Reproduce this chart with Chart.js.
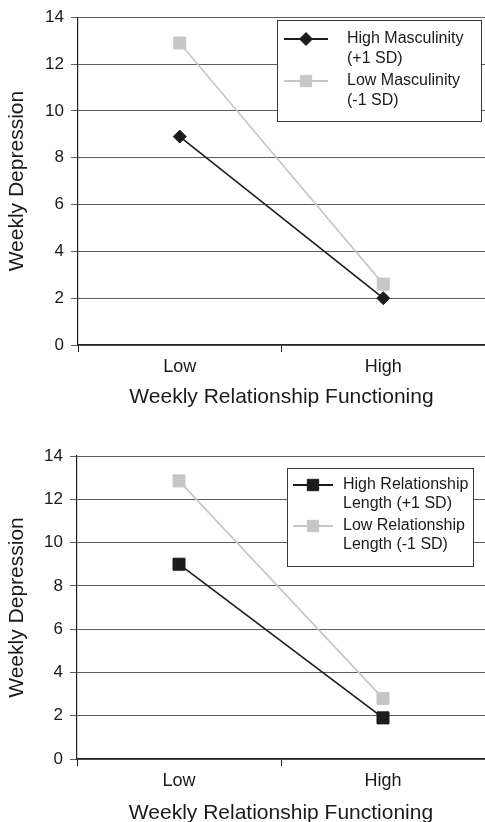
<!DOCTYPE html>
<html>
<head>
<meta charset="utf-8">
<script src="https://cdn.jsdelivr.net/npm/chart.js@4/dist/chart.umd.min.js"></script>
<style>
  html, body { margin: 0; padding: 0; background: #fff; overflow: hidden; }
  #wrap { position: relative; width: 485px; height: 822px; overflow: hidden; }
  #c1 { position: absolute; left: 0; top: 0; }
  #c2 { position: absolute; left: 0; top: 410px; }
</style>
</head>
<body>
<div id="wrap">
  <canvas id="c1" width="485" height="410"></canvas>
  <canvas id="c2" width="485" height="416"></canvas>
</div>
<script>
// ---- data ----
const categories = ['Low', 'High'];
const yMin = 0, yMax = 14, yStep = 2;

const topHighMasculinity = [8.9, 2.0];
const topLowMasculinity = [12.9, 2.6];
const topLabels = [['High Masculinity', '(+1 SD)'], ['Low Masculinity', '(-1 SD)']];

const botHighLength = [9.0, 1.9];
const botLowLength = [12.85, 2.8];
const botLabels = [['High Relationship', 'Length (+1 SD)'], ['Low Relationship', 'Length (-1 SD)']];

const xTitle = 'Weekly Relationship Functioning';
const yTitle = 'Weekly Depression';

// ---- styling ----
const FONT = "'Liberation Sans', Arial, Helvetica, sans-serif";
const DARK = '#1c1c1c';
const LIGHT = '#c6c6c6';
const GRID = '#5e5e5e';
const AXIS = '#222222';

function drawMarker(ctx, style, x, y, r, color) {
  ctx.save();
  ctx.fillStyle = color;
  ctx.strokeStyle = color;
  ctx.lineWidth = 1;
  ctx.beginPath();
  if (style === 'rectRot') {
    ctx.moveTo(x, y - r); ctx.lineTo(x + r, y); ctx.lineTo(x, y + r); ctx.lineTo(x - r, y);
  } else {
    const s = r * Math.SQRT1_2;
    ctx.rect(x - s, y - s, 2 * s, 2 * s);
  }
  ctx.closePath();
  ctx.fill();
  ctx.stroke();
  ctx.restore();
}

const boxLegend = {
  id: 'boxLegend',
  afterDraw(chart, args, o) {
    const ctx = chart.ctx;
    ctx.save();
    ctx.fillStyle = '#fff';
    ctx.fillRect(o.left, o.top, o.width, o.height);
    ctx.strokeStyle = '#3a3a3a';
    ctx.lineWidth = 1;
    ctx.strokeRect(o.left + 0.5, o.top + 0.5, o.width, o.height);
    ctx.font = '16px ' + FONT;
    ctx.textBaseline = 'middle';
    ctx.textAlign = 'left';
    chart.data.datasets.forEach((ds, i) => {
      const y0 = o.top + o.firstY + i * o.itemStep;
      ctx.strokeStyle = ds.borderColor;
      ctx.lineWidth = 2;
      ctx.beginPath();
      ctx.moveTo(o.lineX1, y0);
      ctx.lineTo(o.lineX2, y0);
      ctx.stroke();
      drawMarker(ctx, ds.pointStyle, (o.lineX1 + o.lineX2) / 2, y0, o.markerR[i], ds.pointBackgroundColor);
      ctx.fillStyle = '#1a1a1a';
      ds.label.forEach((line, j) => {
        ctx.fillText(line, o.textX, y0 + j * o.lineH);
      });
    });
    ctx.restore();
  }
};

function makeChart(canvasId, series, labels, styles, radii, cfg) {
  const datasets = series.map((vals, i) => ({
    label: labels[i],
    data: vals,
    borderColor: styles[i].color,
    backgroundColor: styles[i].color,
    pointBackgroundColor: styles[i].color,
    pointBorderColor: styles[i].color,
    pointStyle: styles[i].pointStyle,
    pointRadius: radii[i],
    pointHoverRadius: radii[i],
    borderWidth: 1.6,
    pointBorderWidth: 1,
    tension: 0,
    order: series.length - i
  }));
  return new Chart(document.getElementById(canvasId), {
    type: 'line',
    data: { labels: categories, datasets },
    options: {
      responsive: false,
      animation: false,
      devicePixelRatio: 1,
      layout: { autoPadding: false, padding: { top: cfg.padTop, left: 0, right: 0, bottom: 0 } },
      plugins: {
        legend: { display: false },
        tooltip: { enabled: false },
        boxLegend: cfg.legend
      },
      scales: {
        x: {
          type: 'category',
          offset: true,
          grid: {
            offset: true,
            drawOnChartArea: false,
            drawTicks: true,
            tickLength: 7,
            color: AXIS,
            lineWidth: 1
          },
          border: { display: true, color: AXIS, width: 1.2 },
          ticks: { color: '#1a1a1a', font: { family: FONT, size: 18 }, padding: 4, maxRotation: 0 },
          title: {
            display: true, text: xTitle, color: '#1a1a1a',
            font: { family: FONT, size: 21 }, padding: { top: 0, bottom: 0 }
          },
          afterFit(scale) {
            scale.height = cfg.xHeight;
            scale.paddingLeft = 0;
            scale.paddingRight = 0;
          }
        },
        y: {
          min: yMin, max: yMax,
          grid: { color: GRID, lineWidth: 1, tickLength: 7, drawTicks: true },
          border: { display: true, color: AXIS, width: 1.2 },
          ticks: { stepSize: yStep, color: '#1a1a1a', font: { family: FONT, size: 17 }, padding: 7 },
          title: {
            display: true, text: yTitle, color: '#1a1a1a',
            font: { family: FONT, size: 21 }, padding: { top: 5, bottom: 0 }
          },
          afterFit(scale) { scale.width = cfg.yWidth; }
        }
      }
    },
    plugins: [boxLegend]
  });
}

makeChart('c1', [topHighMasculinity, topLowMasculinity], topLabels,
  [{ color: DARK, pointStyle: 'rectRot' }, { color: LIGHT, pointStyle: 'rect' }],
  [6.5, 8.5],
  {
    padTop: 17, xHeight: 65, yWidth: 78,
    legend: {
      left: 277, top: 20, width: 204, height: 101,
      firstY: 19, lineH: 19.5, itemStep: 42,
      lineX1: 284, lineX2: 328, textX: 347, markerR: [6.5, 8]
    }
  });

makeChart('c2', [botHighLength, botLowLength], botLabels,
  [{ color: DARK, pointStyle: 'rect' }, { color: LIGHT, pointStyle: 'rect' }],
  [8.5, 8.5],
  {
    padTop: 46, xHeight: 67, yWidth: 77,
    legend: {
      left: 287, top: 58, width: 186, height: 98,
      firstY: 17, lineH: 19, itemStep: 41,
      lineX1: 293, lineX2: 333, textX: 343, markerR: [8, 8]
    }
  });
</script>
</body>
</html>
